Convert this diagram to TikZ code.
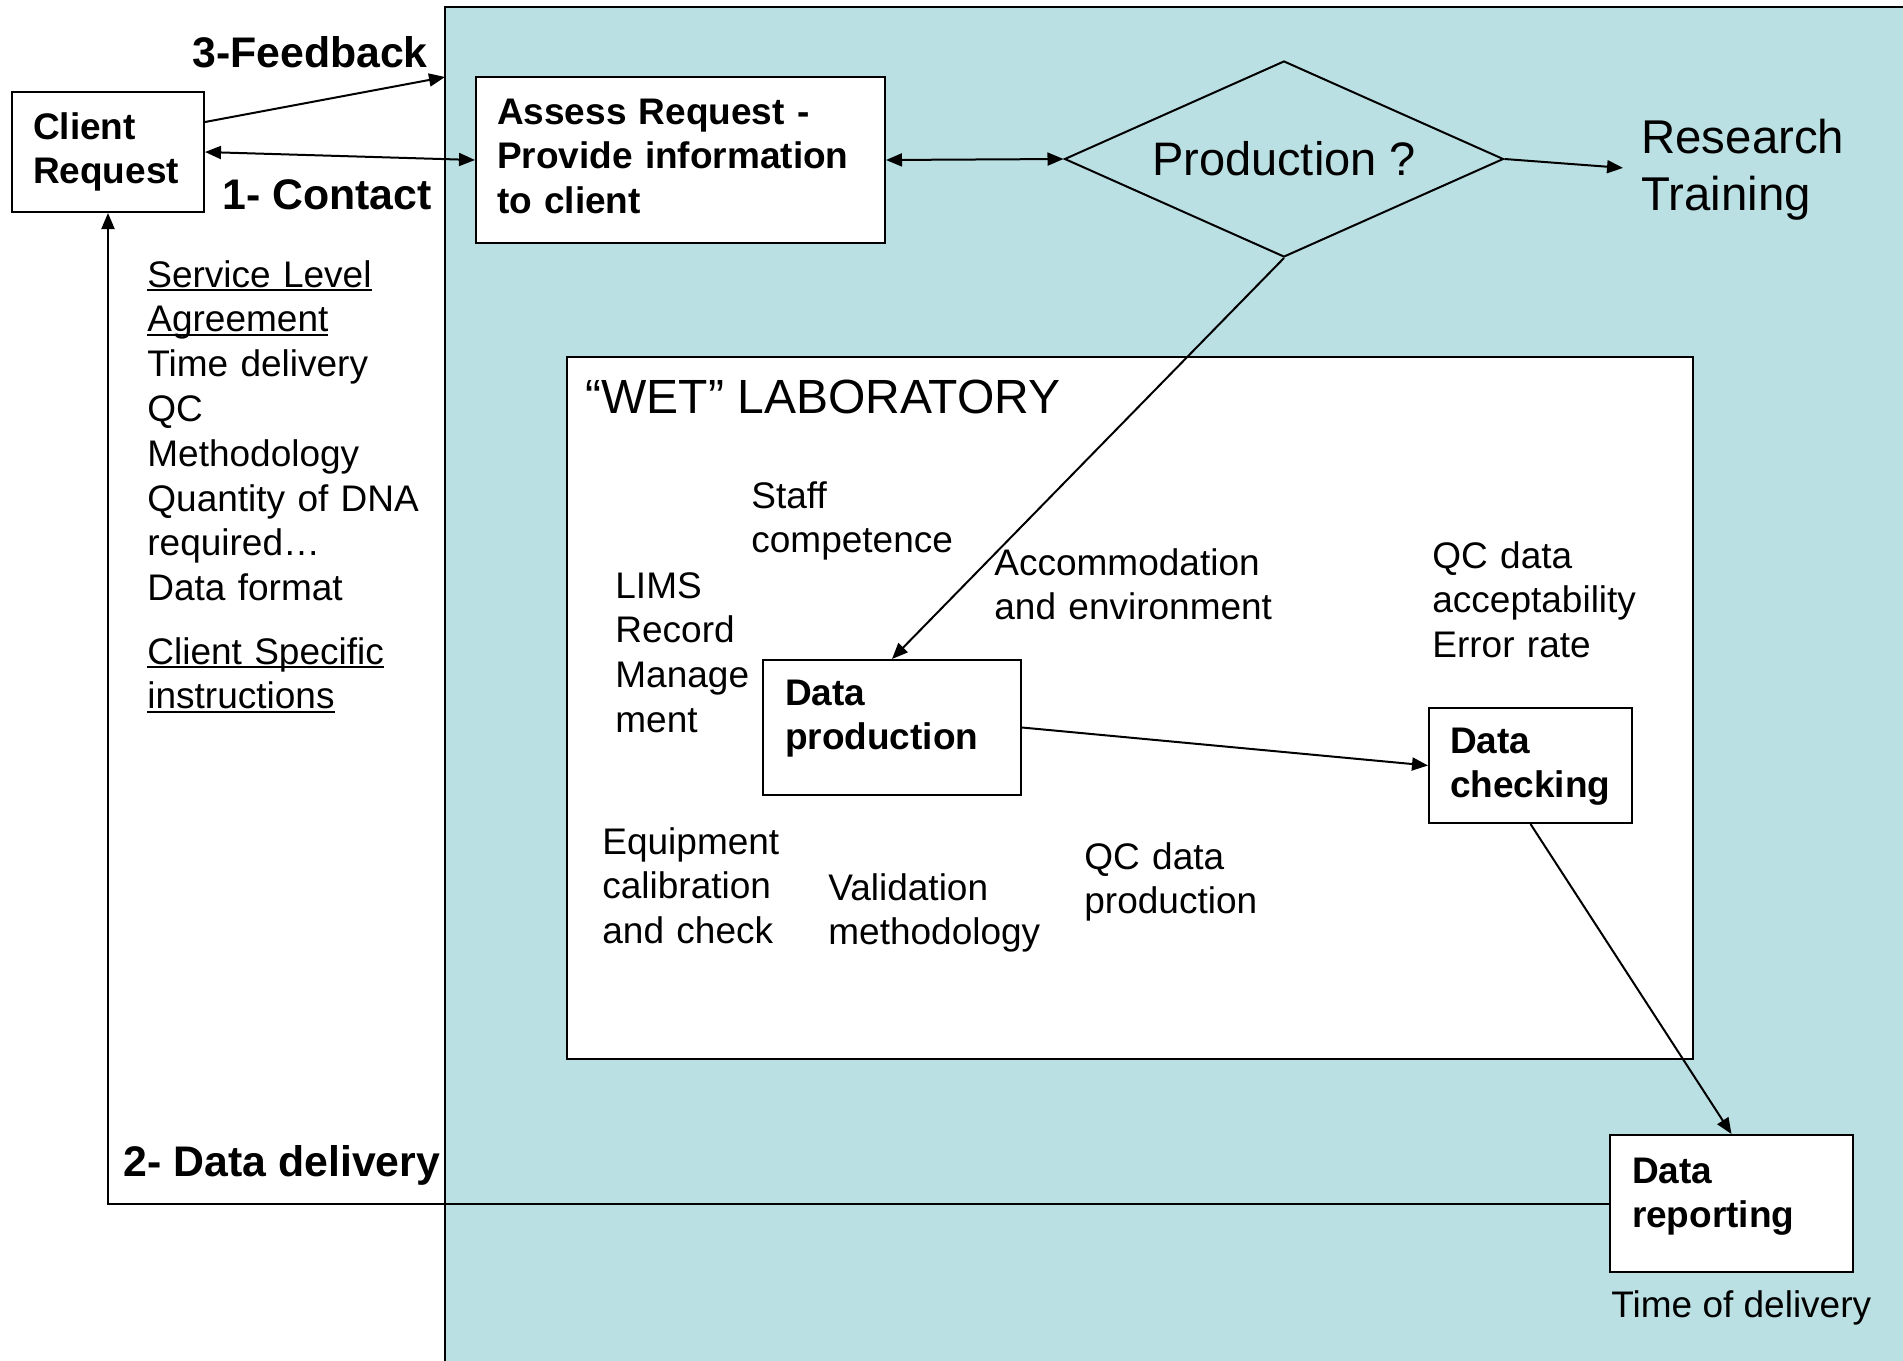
\documentclass[tikz,border=0pt]{standalone}
\usepackage{fontspec}
\setmainfont{Liberation Sans}
\usetikzlibrary{arrows.meta,shapes.geometric}
\definecolor{panelblue}{RGB}{187,224,227}
\hyphenpenalty=10000
\exhyphenpenalty=10000
\newcommand{\myul}[1]{\leavevmode\setbox0=\hbox{#1}\rlap{\rule[-2pt]{\wd0}{0.9pt}}\box0}
\begin{document}
\begin{tikzpicture}[x=0.5pt,y=-0.5pt,
  arr/.style={line width=1pt,-{Triangle[length=8pt,width=6.5pt]}},
  darr/.style={line width=1pt,{Triangle[length=8pt,width=6.5pt]}-{Triangle[length=8pt,width=6.5pt]}},
  procbox/.style={draw,fill=white,line width=1pt,anchor=north west,align=left,inner ysep=0pt,minimum height=0pt,
     font=\bfseries\fontsize{18.5}{22.4}\selectfont},
  body/.style={anchor=base west,inner sep=0pt,align=left,text width=200pt,font=\fontsize{18.5}{22.4}\selectfont},
  steplabel/.style={anchor=base,inner sep=0pt,font=\bfseries\fontsize{21.4}{25}\selectfont}
]
\useasboundingbox (0,0) rectangle (1903,1361);
\fill[white] (0,0) rectangle (1903,1361);
% blue panel
\draw[fill=panelblue, line width=1pt] (445,7) rectangle (1915,1375);
% wet laboratory frame
\node[draw,fill=white,line width=1pt,anchor=north west,minimum width=563pt,minimum height=351pt,inner sep=0pt] (wetlab) at (566,356) {};
\node[anchor=base west,inner sep=0pt,font=\fontsize{24}{28}\selectfont] (wettitle) at (585,413) {“WET” LABORATORY};

% boxes
\node[procbox,text width=75pt,inner xsep=10.5pt,text height=23.5pt,text depth=36.5pt] (client) at (11,91) {Client\\Request};
\node[procbox,text width=183.5pt,inner xsep=10.5pt,text height=23.5pt,text depth=59.5pt] (assess) at (475,76) {Assess Request -\\Provide information\\to client};
\node[procbox,text width=107pt,inner xsep=11pt,text height=22.5pt,text depth=45pt] (dataprod) at (762,659) {Data\\production};
\node[procbox,text width=80.5pt,inner xsep=10.5pt,text height=22.5pt,text depth=35pt] (datacheck) at (1428,707) {Data\\checking};
\node[procbox,text width=99.5pt,inner xsep=11pt,text height=24pt,text depth=44.5pt] (datareport) at (1609,1134) {Data\\reporting};

\node[diamond,draw,line width=1pt,aspect=2.24,minimum width=219.5pt,minimum height=98pt,inner sep=0pt,
      font=\fontsize{23.5}{28}\selectfont] (prod) at (1284,159) {Production ?};
\node[body,text width=150pt,font=\fontsize{23.7}{28.5}\selectfont] (research) at (1641,153) {Research\\Training};

% labels
\node[steplabel] (fb) at (310,67) {3-Feedback};
\node[steplabel] (ct) at (327,209) {1- Contact};
\node[steplabel] (dd) at (282,1176) {2- Data delivery};

% texts
\node[body] (sla) at (147,287) {\myul{Service Level}\\\myul{Agreement}\\Time delivery\\QC\\Methodology\\Quantity of DNA\\required…\\Data format};
\node[body] (csi) at (147,664) {\myul{Client Specific}\\\myul{instructions}};
\node[body] (staff) at (751,508) {Staff\\competence};
\node[body] (lims) at (615,598) {LIMS\\Record\\Manage\\ment};
\node[body] (accom) at (994,575) {Accommodation\\and environment};
\node[body] (qcacc) at (1432,568) {QC data\\acceptability\\Error rate};
\node[body] (equip) at (602,854) {Equipment\\calibration\\and check};
\node[body] (valid) at (828,900) {Validation\\methodology};
\node[body] (qcprod) at (1084,869) {QC data\\production};
\node[anchor=base west,inner sep=0pt,font=\fontsize{18.5}{22.4}\selectfont] (tod) at (1611,1317) {Time of delivery};

% connectors
\coordinate (fbend) at (445,77);
\draw[arr] ([yshift=15pt]client.east) -- (fbend);
\draw[darr] (client.east) -- (assess.west);
\draw[darr] (assess.east) -- (prod.west);
\draw[arr,shorten >=9pt] (prod.east) -- (research.west);
\draw[arr] (prod.south) -- (dataprod.north);
\draw[arr] (dataprod.east) -- (datacheck.west);
\draw[arr] (datacheck.south) -- (datareport.north);
\draw[arr] (datareport.west) -| (client.south);
\end{tikzpicture}
\end{document}
